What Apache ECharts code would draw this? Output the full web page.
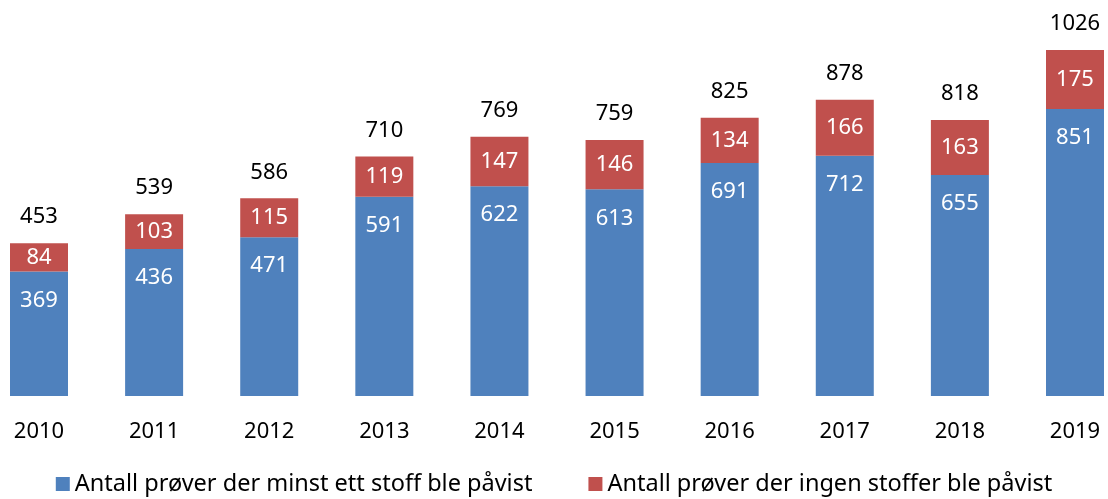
<!DOCTYPE html>
<html lang="no">
<head>
    <meta charset="UTF-8">
    <title>Prøver</title>
    <script src="https://cdn.jsdelivr.net/npm/echarts@6/dist/echarts.min.js"></script>
    <style>
        html, body { margin: 0; padding: 0; background: #fff; }
    </style>
</head>
<body>
<div id="main" style="width: 1108px; height: 499px;"></div>
<script>
    // data
    var years = ['2010', '2011', '2012', '2013', '2014', '2015', '2016', '2017', '2018', '2019'];
    var minstEtt = [369, 436, 471, 591, 622, 613, 691, 712, 655, 851];
    var ingen = [84, 103, 115, 119, 147, 146, 134, 166, 163, 175];
    var totals = [453, 539, 586, 710, 769, 759, 825, 878, 818, 1026];

    var fontName = 'Noto Sans';
    var mychart = echarts.init(document.getElementById('main'));

    mychart.setOption({
        animation: false,
        textStyle: { fontFamily: fontName },
        // bars centred on the ticks so the first and last sit near the edges
        grid: { left: 39, right: 33, top: 25, bottom: 103 },
        legend: {
            data: ['Antall prøver der minst ett stoff ble påvist', 'Antall prøver der ingen stoffer ble påvist'],
            top: 467,
            left: 'center',
            icon: 'rect',
            itemWidth: 14,
            itemHeight: 14,
            itemGap: 56,
            textStyle: { fontSize: 23.5, color: '#000', fontFamily: fontName }
        },
        xAxis: {
            type: 'category',
            data: years,
            boundaryGap: false,
            axisLine: { show: false },
            axisTick: { show: false },
            axisLabel: { fontSize: 22, color: '#000', margin: 25, fontFamily: fontName }
        },
        yAxis: {
            type: 'value',
            min: 0,
            max: 1100,
            show: false,
            splitLine: { show: false }
        },
        series: [
            {
                name: 'Antall prøver der minst ett stoff ble påvist',
                type: 'bar',
                stack: 'tot',
                barWidth: 58,
                data: minstEtt,
                itemStyle: { color: '#4F81BD' },
                label: {
                    show: true,
                    position: 'insideTop',
                    distance: 18,
                    color: '#fff',
                    fontSize: 22,
                    fontFamily: fontName
                }
            },
            {
                name: 'Antall prøver der ingen stoffer ble påvist',
                type: 'bar',
                stack: 'tot',
                barWidth: 58,
                data: ingen,
                itemStyle: { color: '#C0504D' },
                label: {
                    show: true,
                    position: 'inside',
                    color: '#fff',
                    fontSize: 22,
                    fontFamily: fontName
                }
            },
            {
                name: 'sum',
                type: 'bar',
                stack: 'tot',
                barWidth: 58,
                data: years.map(function () { return 0; }),
                itemStyle: { color: 'transparent' },
                label: {
                    show: true,
                    position: 'top',
                    distance: 15,
                    color: '#000',
                    fontSize: 22,
                    fontFamily: fontName,
                    formatter: function (p) { return totals[p.dataIndex]; }
                }
            }
        ]
    });
</script>
</body>
</html>
